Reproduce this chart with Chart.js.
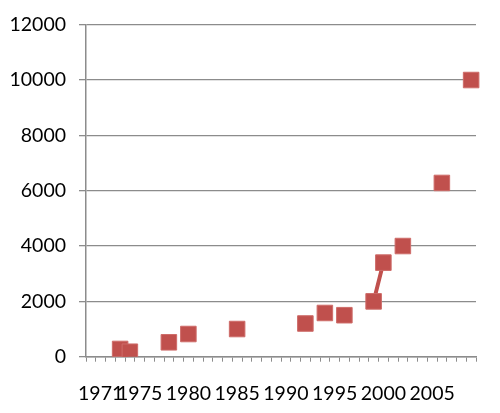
<!DOCTYPE html>
<html>
<head>
<meta charset="utf-8">
<script src="https://cdn.jsdelivr.net/npm/chart.js@4"></script>
<style>
html,body{margin:0;padding:0;background:#fff;}
#wrap{position:relative;width:500px;height:413px;}
</style>
</head>
<body>
<div id="wrap"><canvas id="c" width="500" height="413"></canvas></div>
<script>
const categories = [1970,1971,1972,1973,1974,1975,1976,1977,1978,1979,
                    1980,1981,1982,1983,1984,1985,1986,1987,1988,1989,
                    1990,1991,1992,1993,1994,1995,1996,1997,1998,1999,
                    2000,2001,2002,2003,2004,2005,2006,2007,2008,2009];
const obsYears  = [1973,1974,1978,1980,1985,1992,1994,1996,1999,2000,2002,2006,2009];
const obsValues = [280, 180, 520, 820, 1000,1200,1580,1500,2000,3400,4000,6280,10000];
const xTickLabels = ['1971','1975','1980','1985','1990','1995','2000','2005'];
const yTicks = [0,2000,4000,6000,8000,10000,12000];

const seriesData = categories.map(y => {
  const i = obsYears.indexOf(y);
  return i >= 0 ? obsValues[i] : null;
});

const red = '#C0504D';
const grey = '#8C8C8C';
const font = {family: 'Lato', size: 19.5};

new Chart(document.getElementById('c'), {
  type: 'line',
  data: {
    labels: categories.map(String),
    datasets: [{
      data: seriesData,
      borderColor: red,
      borderWidth: 4,
      backgroundColor: red,
      pointStyle: 'rect',
      pointRadius: 11,
      pointBorderWidth: 1,
      pointBorderColor: '#CE6C69',
      pointBackgroundColor: red,
      spanGaps: false,
      tension: 0
    }]
  },
  options: {
    responsive: false,
    animation: false,
    devicePixelRatio: 1,
    layout: {padding: {left: 0, right: 24, top: 20.7, bottom: 0}},
    plugins: {legend: {display: false}, tooltip: {enabled: false}},
    scales: {
      x: {
        type: 'category',
        offset: true,
        grid: {display: true, drawOnChartArea: false, offset: true, color: grey, tickLength: 5, lineWidth: 1},
        border: {display: true, color: grey, width: 1.5},
        ticks: {
          autoSkip: false, maxRotation: 0, minRotation: 0,
          color: '#000', font: font, padding: 20,
          callback: function(v, i) {
            const l = String(categories[i]);
            return xTickLabels.includes(l) ? l : '';
          }
        },
        afterFit: s => { s.height = 56.3; }
      },
      y: {
        min: 0, max: 12000,
        afterBuildTicks: s => { s.ticks = yTicks.map(v => ({value: v})); },
        grid: {color: grey, tickLength: 7, lineWidth: 1.3},
        border: {display: true, color: grey, width: 1.5},
        ticks: {color: '#000', font: font, padding: 13, callback: v => String(v)},
        afterFit: s => { s.width = 86; }
      }
    }
  }
});
</script>
</body>
</html>
